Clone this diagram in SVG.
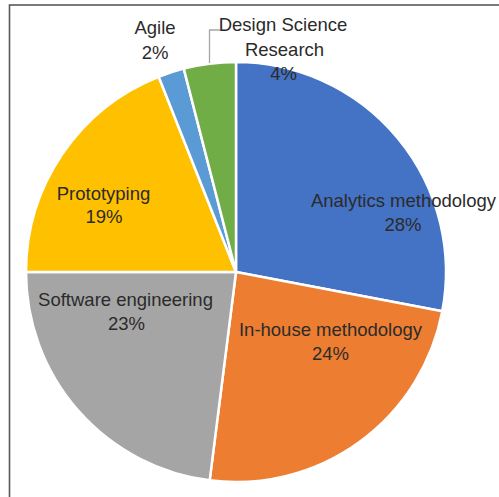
<svg xmlns="http://www.w3.org/2000/svg" width="499" height="497" viewBox="0 0 499 497">
<style>
.s{stroke:#fff;stroke-width:2.5;stroke-linejoin:round}
.t{font-family:"Liberation Sans",Arial,sans-serif;font-size:18.5px;fill:#2b2b2b;text-anchor:middle}
.ld{fill:none;stroke:#a6a6a6;stroke-width:1.3}
</style>
<rect x="0" y="0" width="499" height="497" fill="#fff"/>
<rect x="9.5" y="5" width="600" height="600" fill="none" stroke="#595959" stroke-width="1.6"/>
<g id="slices">
<g id="analytics"><path class="s" fill="#4472C4" d="M236,272 L236,62 A210,210 0 0 1 442.28,311.35 Z"/></g>
<g id="inhouse"><path class="s" fill="#ED7D31" d="M236,272 L442.28,311.35 A210,210 0 0 1 209.68,480.34 Z"/></g>
<g id="software"><path class="s" fill="#A5A5A5" d="M236,272 L209.68,480.34 A210,210 0 0 1 26,272 Z"/></g>
<g id="prototyping"><path class="s" fill="#FFC000" d="M236,272 L26,272 A210,210 0 0 1 158.69,76.75 Z"/></g>
<g id="agile"><path class="s" fill="#5B9BD5" d="M236,272 L158.69,76.75 A210,210 0 0 1 183.78,68.60 Z"/></g>
<g id="dsr"><path class="s" fill="#70AD47" d="M236,272 L183.78,68.60 A210,210 0 0 1 236,62 Z"/></g>
</g>
<g id="connectors">
<polyline class="ld" points="209.5,63 209.5,30 220,30"/>
</g>
<g id="labels">
<g id="label-analytics"><text class="t" x="403.5" y="207">Analytics methodology</text><text class="t" x="403" y="231">28%</text></g>
<g id="label-inhouse"><text class="t" x="330.5" y="336">In-house methodology</text><text class="t" x="330.5" y="360">24%</text></g>
<g id="label-software"><text class="t" x="125.5" y="306">Software engineering</text><text class="t" x="126.5" y="330">23%</text></g>
<g id="label-prototyping"><text class="t" x="103.5" y="200">Prototyping</text><text class="t" x="104" y="223">19%</text></g>
<g id="label-agile"><text class="t" x="155" y="34">Agile</text><text class="t" x="155" y="59">2%</text></g>
<g id="label-dsr"><text class="t" x="283" y="31">Design Science</text><text class="t" x="284.5" y="55.5">Research</text><text class="t" x="283.5" y="79.5">4%</text></g>
</g>
</svg>
